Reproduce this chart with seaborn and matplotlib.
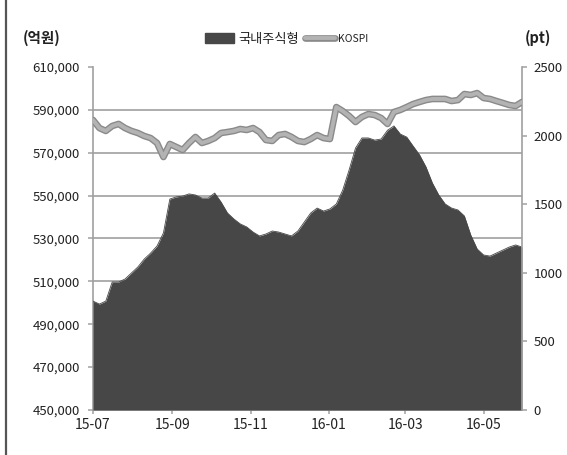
import numpy as np
import pandas as pd
import matplotlib
matplotlib.use("Agg")
import matplotlib.pyplot as plt
import matplotlib.dates as mdates
import matplotlib.patheffects as pe
from matplotlib.lines import Line2D
from matplotlib.patches import Patch
from matplotlib.ticker import FuncFormatter, FixedLocator
import seaborn as sns

# 5-day sampling, 2015-07-01 .. 2016-05-31
dates = pd.date_range("2015-07-01", periods=68, freq="5D")

# 국내주식형 펀드 설정액 (억원)
fund = [500800, 499400, 500800, 509700, 509700, 511100, 513900, 516700, 520400, 523200,
        526500, 532600, 548400, 549400, 549800, 550800, 550300, 548900, 548900, 551200,
        547000, 541900, 539100, 536800, 535400, 533000, 531200, 532100, 533500, 533000,
        532100, 531200, 533500, 537700, 541900, 544200, 542800, 543800, 546100, 552600,
        562000, 572200, 576900, 576900, 575900, 576400, 580500, 582500, 578700, 577300,
        573100, 569000, 563400, 555900, 550300, 546100, 544200, 543300, 540500, 531600,
        525100, 522300, 521800, 523200, 524600, 526000, 527000, 526000]

# KOSPI (pt)
kospi = [2114, 2055, 2034, 2070, 2085, 2055, 2034, 2019, 1997, 1982,
         1946, 1844, 1939, 1917, 1895, 1946, 1990, 1946, 1961, 1982,
         2019, 2026, 2034, 2048, 2041, 2055, 2026, 1968, 1961, 2004,
         2012, 1990, 1961, 1953, 1975, 2004, 1982, 1975, 2208, 2179,
         2143, 2099, 2136, 2157, 2150, 2128, 2085, 2172, 2187, 2208,
         2230, 2245, 2259, 2267, 2267, 2267, 2252, 2259, 2303, 2296,
         2310, 2274, 2267, 2252, 2238, 2223, 2216, 2245]

left_ticks = [450000, 470000, 490000, 510000, 530000, 550000, 570000, 590000, 610000]
right_ticks = [0, 500, 1000, 1500, 2000, 2500]
x_ticks = ["2015-07-01", "2015-09-01", "2015-11-01", "2016-01-01", "2016-03-01", "2016-05-01"]

df = pd.DataFrame({"date": dates, "fund": fund, "kospi": kospi})

sns.set_theme(style="white")
plt.rcParams["font.family"] = ["Noto Sans CJK KR", "DejaVu Sans"]

AREA = "#474747"
GRID = "#a0a0a0"
TXT = "#222222"
LINE_IN = "#b3b3b3"
LINE_OUT = "#8a8a8a"

fig = plt.figure(figsize=(5.67, 4.55), dpi=100)
ax = fig.add_axes([93 / 567, 1 - 410 / 455, (522 - 93) / 567, (410 - 67) / 455])

# fund area
sns.lineplot(data=df, x="date", y="fund", ax=ax, color=AREA, linewidth=0.6, zorder=3)
ax.fill_between(df["date"], left_ticks[0], df["fund"], color=AREA, linewidth=0, zorder=3)
ax.set_ylim(left_ticks[0], left_ticks[-1])
ax.set_yticks(left_ticks)
ax.yaxis.set_major_formatter(FuncFormatter(lambda v, p: f"{int(v):,}"))
for v in left_ticks[1:-1]:
    ax.axhline(v, color=GRID, linewidth=1.2, zorder=1)

# KOSPI line on the secondary axis
stroke = [pe.Stroke(linewidth=4.8, foreground=LINE_OUT), pe.Normal()]
ax2 = ax.twinx()
sns.lineplot(data=df, x="date", y="kospi", ax=ax2, color=LINE_IN, linewidth=2.8,
             path_effects=stroke, zorder=4)
ax2.set_ylim(right_ticks[0], right_ticks[-1])
ax2.set_yticks(right_ticks)

xt = pd.to_datetime(x_ticks)
ax.set_xlim(pd.Timestamp("2015-07-01"), pd.Timestamp("2016-05-31"))
ax.xaxis.set_major_locator(FixedLocator(mdates.date2num(xt)))
ax.xaxis.set_major_formatter(mdates.DateFormatter("%y-%m"))

for a in (ax, ax2):
    a.set_xlabel("")
    a.set_ylabel("")
    a.grid(False)
    for s in a.spines.values():
        s.set_visible(False)
    a.tick_params(labelsize=9.5, labelcolor=TXT, colors=GRID, width=1.1, length=3.5)

for side in ("left", "bottom"):
    ax.spines[side].set_visible(True)
    ax.spines[side].set_color(GRID)
    ax.spines[side].set_linewidth(1.2)
ax2.spines["right"].set_visible(True)
ax2.spines["right"].set_color(GRID)
ax2.spines["right"].set_linewidth(1.2)

ax.tick_params(axis="y", left=True, direction="out", pad=6)
ax.tick_params(axis="x", bottom=True, direction="out", length=3, pad=3, labelsize=10)
ax2.tick_params(axis="y", right=True, direction="out", pad=5)
for lab in ax.get_xticklabels() + ax.get_yticklabels() + ax2.get_yticklabels():
    lab.set_color(TXT)

# unit labels
fig.text(23 / 567, 1 - 38 / 455, "(억원)", fontsize=10.5, fontweight="bold", color=TXT,
         ha="left", va="center")
fig.text(525 / 567, 1 - 38 / 455, "(pt)", fontsize=10.5, fontweight="bold", color=TXT,
         ha="left", va="center")

# legend
h_area = Patch(facecolor=AREA, edgecolor=AREA)
h_line = Line2D([], [], color=LINE_IN, linewidth=2.8, path_effects=stroke)
leg = fig.legend([h_area, h_line], ["국내주식형", "KOSPI"], loc="center",
                 bbox_to_anchor=(287 / 567, 1 - 39 / 455), ncol=2, frameon=False,
                 handlelength=2.2, handleheight=0.7, handletextpad=0.3, columnspacing=0.5,
                 fontsize=9.5)
for t in leg.get_texts():
    t.set_color(TXT)
leg.get_texts()[1].set_fontsize(7.5)

# left frame rule
fig.add_artist(Line2D([6 / 567, 6 / 567], [0, 1], transform=fig.transFigure,
                      color="#555555", linewidth=1.6))

fig.savefig("out.png", dpi=100)
